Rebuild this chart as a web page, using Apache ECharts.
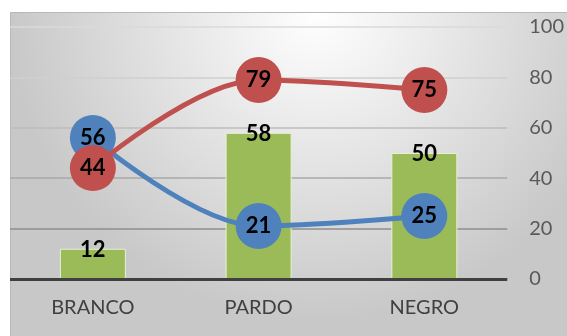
<!DOCTYPE html>
<html>
<head>
<meta charset="utf-8">
<script src="https://cdn.jsdelivr.net/npm/echarts@6/dist/echarts.min.js"></script>
<style>html,body{margin:0;padding:0;background:#fff}#c{width:567px;height:336px}</style>
</head>
<body>
<div id="c"></div>
<script>
const categories = ['BRANCO', 'PARDO', 'NEGRO'];
const barValues = [12, 58, 50];
const blueValues = [56, 21, 25];
const redValues = [44, 79, 75];
const yTicks = [0, 20, 40, 60, 80, 100];

const FONT = 'Lato, "Liberation Sans", sans-serif';
const chart = echarts.init(document.getElementById('c'), null, {renderer: 'canvas'});
chart.setOption({
  animation: false,
  graphic: [{
    type: 'rect', left: 10, top: 12, z: -10, silent: true,
    shape: {width: 557, height: 324},
    style: {
      fill: new echarts.graphic.RadialGradient(0.55, 0.0, 0.95, [
        {offset: 0, color: '#ffffff'},
        {offset: 1, color: '#c8c8c8'}
      ]),
      stroke: '#b8b8b8', lineWidth: 1
    }
  }],
  grid: {left: 10, right: 59, top: 27, bottom: 57, containLabel: false},
  xAxis: {
    type: 'category', data: categories,
    axisLine: {show: false}, axisTick: {show: false},
    axisLabel: {color: '#404040', fontSize: 20, fontFamily: FONT, margin: 19}
  },
  yAxis: {
    type: 'value', position: 'right', min: 0, max: 100, interval: 20,
    axisLine: {show: false}, axisTick: {show: false},
    axisLabel: {color: '#595959', fontSize: 20, fontFamily: FONT, margin: 22, align: 'left',
      formatter: v => yTicks.includes(v) ? String(v) : ''},
    splitLine: {lineStyle: {width: 1.5, color: ['#444', '#8e8e8e', '#a8a8a8', '#bdbdbd', '#cfcfcf', '#dadada']}}
  },
  series: [
    {
      type: 'bar', data: barValues, barWidth: 66, z: 2,
      itemStyle: {color: '#9BBB59', borderColor: '#e6f0d6', borderWidth: 1},
      label: {show: true, position: 'top', distance: -12, color: '#000', fontWeight: 'bold', fontSize: 22, fontFamily: FONT}
    },
    {
      type: 'line', data: blueValues, smooth: 0.35, z: 3,
      symbol: 'circle', symbolSize: 46,
      lineStyle: {color: '#4F81BD', width: 5},
      itemStyle: {color: '#4F81BD'},
      label: {show: true, position: 'inside', color: '#000', fontWeight: 'bold', fontSize: 22, fontFamily: FONT}
    },
    {
      type: 'line', data: redValues, smooth: 0.35, z: 4,
      symbol: 'circle', symbolSize: 46,
      lineStyle: {color: '#C0504D', width: 5},
      itemStyle: {color: '#C0504D'},
      label: {show: true, position: 'inside', color: '#000', fontWeight: 'bold', fontSize: 22, fontFamily: FONT}
    },
    {
      type: 'line', data: [], markLine: {
        silent: true, symbol: 'none', label: {show: false},
        lineStyle: {color: '#404040', width: 3, type: 'solid'},
        data: [{yAxis: 0}]
      }
    }
  ]
});
</script>
</body>
</html>
